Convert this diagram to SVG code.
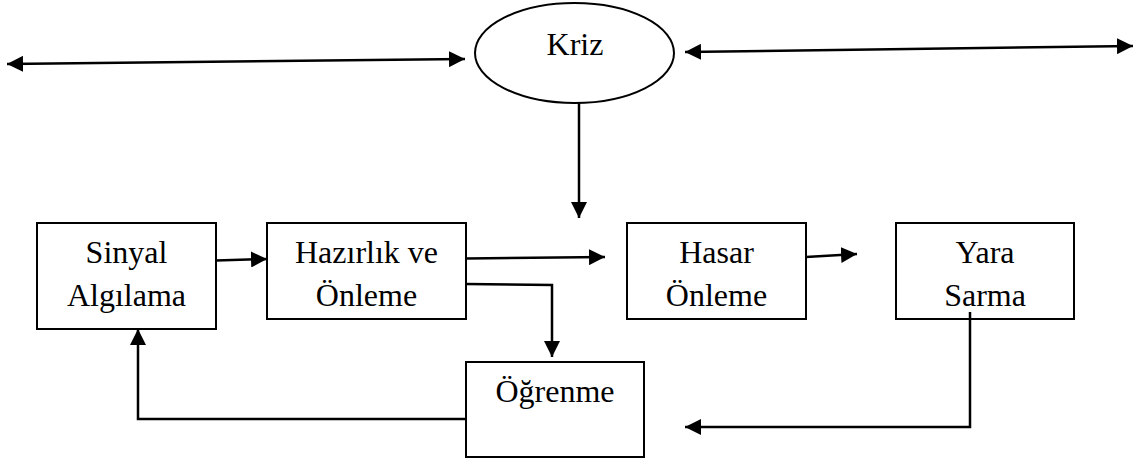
<svg xmlns="http://www.w3.org/2000/svg" width="1136" height="465" viewBox="0 0 1136 465">
<style>
.box{fill:#fff;stroke:#000;stroke-width:2}
.lbl{font-family:"Liberation Serif","Times New Roman",serif;font-size:32px;fill:#000;text-anchor:middle}
.con{fill:none;stroke:#000;stroke-width:2.5}
</style>
<defs>
<marker id="ah" viewBox="0 0 16 16" refX="16" refY="8" markerWidth="16" markerHeight="16" markerUnits="userSpaceOnUse" orient="auto-start-reverse">
<path d="M0,0 L16,8 L0,16 Z" fill="#000"/>
</marker>
</defs>
<rect width="1136" height="465" fill="#fff"/>
<g id="kriz">
<ellipse class="box" cx="574.5" cy="53" rx="99.5" ry="50"/>
<text class="lbl" x="575" y="55">Kriz</text>
</g>
<g id="sinyal">
<rect class="box" x="37" y="223" width="179" height="106"/>
<text class="lbl" x="126.5" y="263">Sinyal</text>
<text class="lbl" x="126.5" y="306">Algılama</text>
</g>
<g id="hazirlik">
<rect class="box" x="267" y="223" width="199" height="96"/>
<text class="lbl" x="366.5" y="263">Hazırlık ve</text>
<text class="lbl" x="366.5" y="306">Önleme</text>
</g>
<g id="hasar">
<rect class="box" x="627" y="223" width="179" height="96"/>
<text class="lbl" x="716.5" y="263">Hasar</text>
<text class="lbl" x="716.5" y="306">Önleme</text>
</g>
<g id="yara">
<rect class="box" x="896" y="223" width="178" height="96"/>
<text class="lbl" x="985" y="263">Yara</text>
<text class="lbl" x="985" y="306">Sarma</text>
</g>
<g id="ogrenme">
<rect class="box" x="466" y="362" width="178" height="95"/>
<text class="lbl" x="555" y="402">Öğrenme</text>
</g>
<g id="connectors">
<path class="con" d="M7,64 L465,59" marker-start="url(#ah)" marker-end="url(#ah)"/>
<path class="con" d="M685,52 L1133,46" marker-start="url(#ah)" marker-end="url(#ah)"/>
<path class="con" d="M579,103 L579,218" marker-end="url(#ah)"/>
<path class="con" d="M216,260.5 L267,259" marker-end="url(#ah)"/>
<path class="con" d="M466,258.5 L605,257" marker-end="url(#ah)"/>
<path class="con" d="M466,284 L552,285 L552,357" marker-end="url(#ah)"/>
<path class="con" d="M806,257 L857,254" marker-end="url(#ah)"/>
<path class="con" d="M970,312 L970,427 L685,427" marker-end="url(#ah)"/>
<path class="con" d="M466,419 L138,419 L138,329" marker-end="url(#ah)"/>
</g>
</svg>
